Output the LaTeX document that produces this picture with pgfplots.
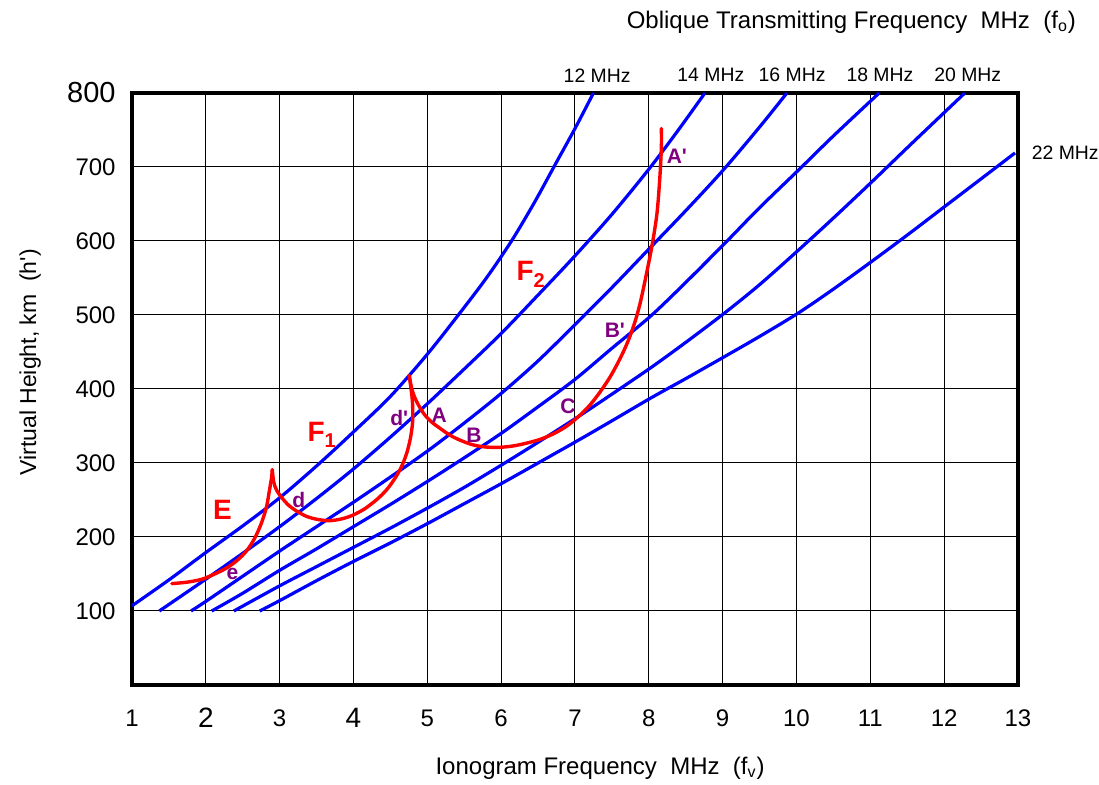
\documentclass[border=0pt]{standalone}
\usepackage{fontspec}
\setmainfont{Liberation Sans}
\usepackage{pgfplots}
\pgfplotsset{compat=1.18}
\definecolor{pblue}{RGB}{0,0,255}
\definecolor{pred}{RGB}{255,0,0}
\definecolor{ppurple}{RGB}{128,0,128}
\newcommand{\fs}[1]{\fontsize{#1}{#1}\selectfont}
\begin{document}
\begin{tikzpicture}
\useasboundingbox (-66pt,-50pt) rectangle (483.5pt,342.5pt);
\begin{axis}[
  at={(0,0)}, anchor=south west,
  scale only axis, width=443pt, height=296pt,
  xmin=1, xmax=13, ymin=0, ymax=800,
  xtick={1,...,13}, ytick={100,200,...,800},
  xticklabels={1,{\fs{14}2},3,{\fs{14}4},5,6,7,8,9,10,11,12,13},
  yticklabels={100,200,300,400,500,600,700,{\fs{14.5}800}},
  tick label style={font=\fs{12}},
  xticklabel style={anchor=center, yshift=-16.5pt},
  yticklabel style={anchor=east, inner sep=0pt, xshift=-8pt},
  major tick length=0pt,
  grid=major, grid style={black, line width=0.5pt},
  axis line style={black, line width=1.6pt},
  clip=false,
]
% oblique frequency curves (12, 14, 16, 18, 20, 22 MHz)
\addplot[pblue, line width=1.6pt, smooth] coordinates {(1.0,107)(1.5,142)(2,179)(2.5,215)(3,253)(3.5,296)(4,342)(4.5,390)(5,447)(5.42,500)(5.8,550)(6.14,600)(6.45,652)(6.73,703)(7.0,752)(7.25,800)};
\addplot[pblue, line width=1.6pt, smooth] coordinates {(1.37,100)(2,143)(2.5,178)(3,214)(3.5,252)(4,292)(4.5,335)(5,380)(5.5,427)(6,475)(6.5,527)(7,580)(7.5,636)(8,697)(8.4,750)(8.76,800)};
\addplot[pblue, line width=1.6pt, smooth] coordinates {(1.80,100)(2,113)(2.5,147)(3,181)(3.5,214)(4,247)(4.5,281)(5,316)(5.5,354)(6,394)(6.5,438)(7,487)(7.5,537)(8,589)(8.5,641)(9,695)(9.5,754)(9.87,800)};
\addplot[pblue, line width=1.6pt, smooth] coordinates {(2.08,100)(2.5,124)(3,155)(3.5,184)(4,214)(4.5,244)(5,275)(5.5,307)(6,340)(6.5,376)(7,413)(7.5,455)(8.03,499)(8.5,544)(9.05,599)(9.5,645)(10.07,700)(10.5,742)(11.12,800)};
\addplot[pblue, line width=1.6pt, smooth] coordinates {(2.38,100)(3,134)(3.5,160)(4,186)(4.5,212)(5,239)(5.5,267)(6,297)(6.5,328)(7.05,363)(7.5,393)(8.03,429)(8.5,463)(9.03,503)(9.5,541)(10.03,588)(10.5,631)(11,678)(11.5,726)(11.9,764)(12.28,800)};
\addplot[pblue, line width=1.6pt, smooth] coordinates {(2.73,100)(3,114)(3.5,141)(4,167)(4.5,192)(5,218)(5.5,245)(6,272)(6.5,300)(7.05,331)(7.5,357)(8.03,388)(8.5,414)(9.03,444)(9.5,471)(10.03,503)(10.5,535)(11,571)(11.5,608)(12,646)(12.5,684)(12.96,719)};
% ionogram traces
\addplot[pred, line width=1.7pt, smooth, line cap=round] coordinates {(1.54,137)(1.75,139)(1.95,143)(2.12,150)(2.28,158)(2.42,168)(2.55,181)(2.66,198)(2.75,218)(2.82,240)(2.86,262)(2.89,280)(2.90,291)};
\addplot[pred, line width=1.7pt, smooth, line cap=round] coordinates {(2.90,291)(2.92,274)(2.96,263)(3.03,253)(3.12,243)(3.23,235)(3.36,228)(3.50,224)(3.66,222)(3.82,224)(3.98,229)(4.15,238)(4.32,251)(4.45,264)(4.56,279)(4.65,295)(4.72,313)(4.77,333)(4.80,355)(4.80,380)(4.78,400)(4.755,418)};
\addplot[pred, line width=1.7pt, smooth, line cap=round] coordinates {(4.755,418)(4.79,400)(4.85,384)(4.95,367)(5.05,356)(5.17,347)(5.30,338)(5.44,331)(5.60,325)(5.75,322)(5.95,321)(6.16,323)(6.35,327)(6.53,332)(6.72,340)(6.89,350)(7.05,363)(7.20,378)(7.34,396)(7.48,417)(7.61,441)(7.72,465)(7.81,490)(7.88,515)(7.95,547)(8.04,592)(8.11,637)(8.15,687)(8.17,727)(8.17,752)};
% frequency labels
\node[font=\fs{9.7}] at (axis cs:7.30,824) {12 MHz};
\node[font=\fs{9.7}] at (axis cs:8.84,824) {14 MHz};
\node[font=\fs{9.7}] at (axis cs:9.94,824) {16 MHz};
\node[font=\fs{9.7}] at (axis cs:11.13,824) {18 MHz};
\node[font=\fs{9.7}] at (axis cs:12.32,824) {20 MHz};
\node[font=\fs{9.7}] at (axis cs:13.64,719) {22 MHz};
% titles
\node[font=\fs{12}, anchor=east] at (axis cs:13.88,896) {Oblique Transmitting Frequency\ \ MHz\ \ (f\textsubscript{o})};
\node[font=\fs{12}] at (axis cs:7.34,-112) {Ionogram Frequency\ \ MHz\ \ (f\textsubscript{v})};
\node[font=\fs{11.5}, rotate=90] at (axis cs:-0.38,436) {Virtual Height, km\ \ (h\textquotesingle)};
% layer labels
\node[text=pred, font=\bfseries\fs{14}] at (axis cs:2.225,236) {E};
\node[text=pred, font=\bfseries\fs{14}] at (axis cs:3.57,338) {F\raisebox{-0.45ex}{\fs{10}1}};
\node[text=pred, font=\bfseries\fs{14}] at (axis cs:6.40,555) {F\raisebox{-0.45ex}{\fs{10}2}};
% point labels
\node[text=ppurple, font=\bfseries\fs{10.5}] at (axis cs:2.36,150) {e};
\node[text=ppurple, font=\bfseries\fs{10.5}] at (axis cs:3.26,250) {d};
\node[text=ppurple, font=\bfseries\fs{10.5}] at (axis cs:4.62,361) {d\textquotesingle};
\node[text=ppurple, font=\bfseries\fs{10.5}] at (axis cs:5.16,365) {A};
\node[text=ppurple, font=\bfseries\fs{10.5}] at (axis cs:5.63,338) {B};
\node[text=ppurple, font=\bfseries\fs{10.5}] at (axis cs:6.905,377) {C};
\node[text=ppurple, font=\bfseries\fs{10.5}] at (axis cs:7.54,480) {B\textquotesingle};
\node[text=ppurple, font=\bfseries\fs{10.5}] at (axis cs:8.38,714) {A\textquotesingle};
\end{axis}
\end{tikzpicture}
\end{document}
